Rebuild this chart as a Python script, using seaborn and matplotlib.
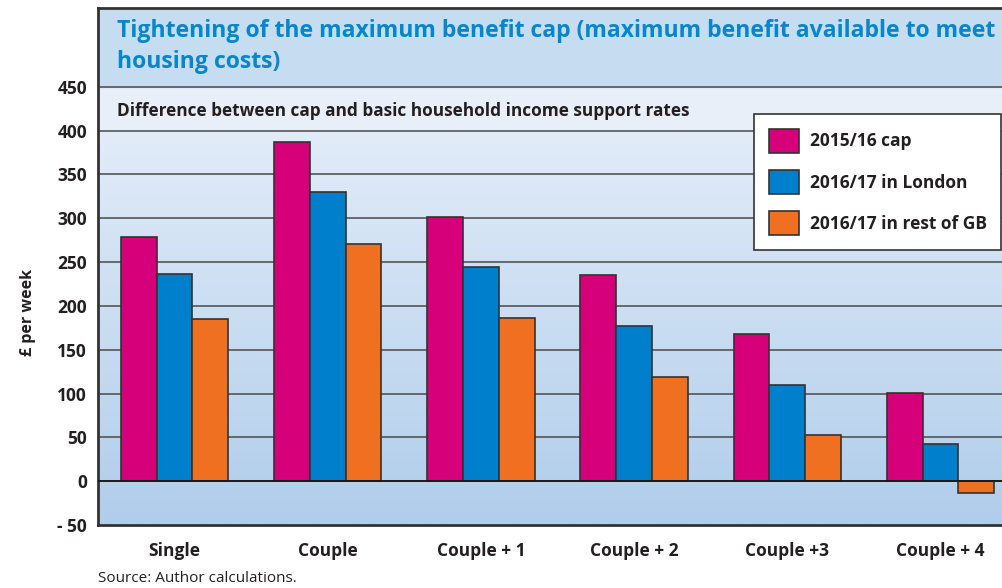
import numpy as np
import pandas as pd
import matplotlib
matplotlib.use("Agg")
import matplotlib.pyplot as plt
from matplotlib.colors import LinearSegmentedColormap
import seaborn as sns

# data
categories = ["Single", "Couple", "Couple + 1", "Couple + 2", "Couple +3", "Couple + 4"]
series = ["2015/16 cap", "2016/17 in London", "2016/17 in rest of GB"]
cap_2015 = [279, 387, 302, 235, 168, 101]
london_2016 = [237, 330, 245, 177, 110, 43]
rest_gb_2016 = [185, 271, 186, 119, 53, -14]
yticks = [450, 400, 350, 300, 250, 200, 150, 100, 50, 0, -50]
ytick_labels = ["450", "400", "350", "300", "250", "200", "150", "100", "50", "0", "- 50"]

colors = ["#d6007b", "#0080cc", "#f07022"]

df = pd.DataFrame({
    "category": categories * 3,
    "series": [series[0]] * 6 + [series[1]] * 6 + [series[2]] * 6,
    "value": cap_2015 + london_2016 + rest_gb_2016,
})

sns.set_style("white")
plt.rcParams["font.family"] = ["Open Sans", "DejaVu Sans"]

fig = plt.figure(figsize=(10.02, 5.88), dpi=100)
W, H = 1002, 588
ax = fig.add_axes([98 / W, (H - 525) / H, 919 / W, (525 - 8) / H])

ymin, ymax = -50, 540
ax.set_xlim(-0.5, 5.5)
ax.set_ylim(ymin, ymax)

# background: gradient in plot body, bands for subtitle and title
grad = LinearSegmentedColormap.from_list("bg", ["#b0cdeb", "#e2ecf8"])
img = np.linspace(0, 1, 256).reshape(-1, 1)
ax.imshow(img, cmap=grad, origin="lower", aspect="auto",
          extent=[-0.5, 5.5, ymin, 400], zorder=0)
ax.axhspan(400, 450, color="#e8eff8", zorder=0)
ax.axhspan(450, ymax, color="#c6dcf1", zorder=0)

for t in yticks:
    if t in (0, -50):
        continue
    ax.axhline(t, color="#555555", lw=1.2, zorder=1)
ax.axhline(0, color="#1a1a1a", lw=1.4, zorder=3)

sns.barplot(data=df, x="category", y="value", hue="series", order=categories,
            hue_order=series, palette=colors, width=0.7, saturation=1,
            edgecolor="#333333", linewidth=1.2, ax=ax, zorder=2)

ax.set_xlim(-0.5, 5.5)
ax.set_ylim(ymin, ymax)
ax.set_yticks(yticks)
ax.set_yticklabels(ytick_labels, fontsize=12.5, fontweight="bold", color="#231f20")
ax.set_xticks(range(len(categories)))
ax.set_xticklabels(categories, fontsize=12.5, fontweight="bold", color="#231f20")
ax.tick_params(axis="both", length=0, pad=8)
ax.tick_params(axis="x", pad=12)
ax.set_xlabel("")
ax.set_ylabel("")

for side in ["left", "bottom", "top"]:
    ax.spines[side].set_color("#333333")
    ax.spines[side].set_linewidth(2)
ax.spines["right"].set_visible(False)

fig.text(28 / W, 1 - 312 / H, "£ per week", rotation=90, ha="center", va="center",
         fontsize=11.5, fontweight="bold", color="#231f20")

ax.text(117 / W, 1 - 31 / H,
        "Tightening of the maximum benefit cap (maximum benefit available to meet",
        transform=fig.transFigure, ha="left", va="center", fontsize=16.6, fontweight="bold",
        color="#0886cb", zorder=5)
ax.text(117 / W, 1 - 62 / H, "housing costs)",
        transform=fig.transFigure, ha="left", va="center", fontsize=16.6, fontweight="bold",
        color="#0886cb", zorder=5)
ax.text(117 / W, 1 - 111 / H,
        "Difference between cap and basic household income support rates",
        transform=fig.transFigure, ha="left", va="center", fontsize=12.4, fontweight="bold",
        color="#231f20", zorder=5)

fig.text(98 / W, 1 - 578 / H, "Source: Author calculations.", ha="left", va="center",
         fontsize=11, color="#231f20")

leg = ax.legend(loc="upper left", bbox_to_anchor=(754 / W, 1 - 114 / H),
                bbox_transform=fig.transFigure, frameon=True, fancybox=False,
                handlelength=1.75, handleheight=1.75, handletextpad=0.6,
                labelspacing=1.0, borderpad=0.85, borderaxespad=0,
                prop={"size": 12.5, "weight": "bold"})
leg.get_frame().set_edgecolor("#333333")
leg.get_frame().set_linewidth(1.2)
leg.get_frame().set_facecolor("white")
leg.get_frame().set_alpha(1)
for txt in leg.get_texts():
    txt.set_color("#231f20")
leg.set_zorder(6)

fig.savefig("out.png", dpi=100)
